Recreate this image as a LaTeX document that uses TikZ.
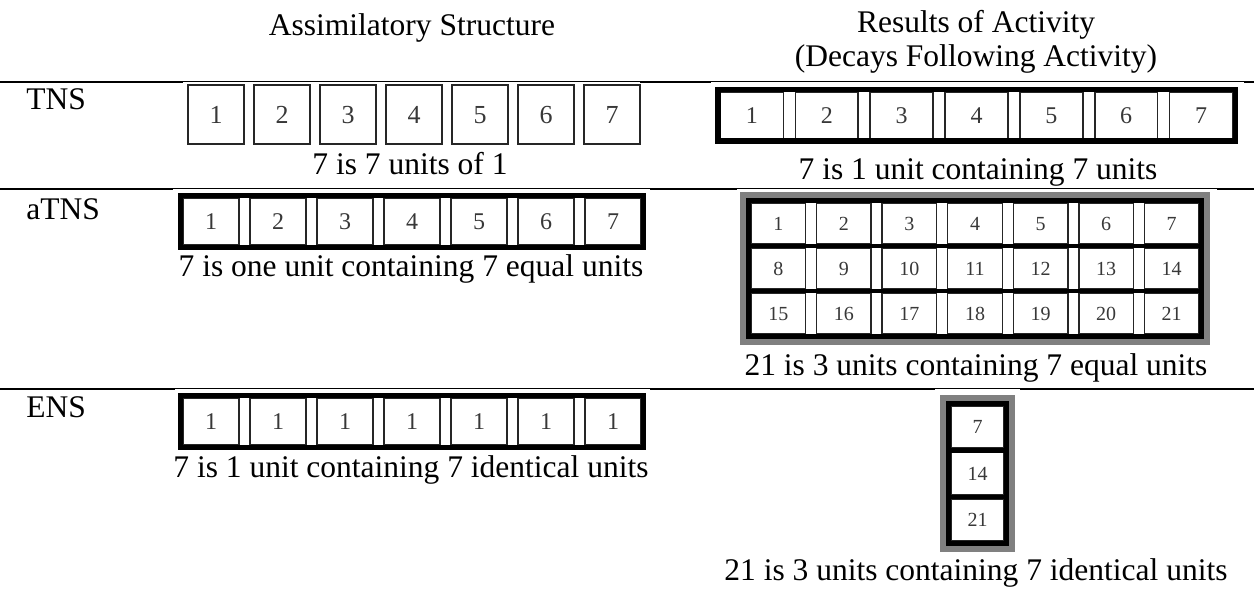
\documentclass[tikz,border=0pt]{standalone}
\usepackage{fontspec}
\setmainfont{Liberation Serif}
\begin{document}
\begin{tikzpicture}[x=0.5pt,y=-0.5pt,
  lbl/.style={anchor=base,inner sep=0pt,font=\fontsize{15.75}{18}\selectfont},
  rowlbl/.style={lbl,anchor=base west},
  num/.style={anchor=base,inner sep=0pt,text=black!78,font=\fontsize{12}{14}\selectfont},
  bignum/.style={num,font=\fontsize{13}{15}\selectfont},
  smallnum/.style={num,font=\fontsize{10}{12}\selectfont},
  unitbox/.style={draw=black!85,line width=0.9pt},
  cellbox/.style={draw=black!85,line width=0.75pt},
  outerbox/.style={draw=black,line width=2.6pt},
  halo/.style={draw=black!50,line width=3pt},
  sepline/.style={draw=black,line width=2.25pt},
  rulethick/.style={line width=1pt},
  rulethin/.style={line width=0.5pt}]

\useasboundingbox (0,0) rectangle (1254,593);

% ---- column headers ----
\node[lbl] (hdrA) at (412,36) {Assimilatory Structure};
\node[lbl] (hdrB1) at (976,33) {Results of Activity};
\node[lbl] (hdrB2) at (976,67) {(Decays Following Activity)};

% ---- table rules (thinner where a figure overlaps the rule) ----
\foreach \a/\b in {0/183,640/711,1244/1254}
  \draw[rulethick] (\a,82) -- (\b,82);
\foreach \a/\b in {183/640,711/1244}
  \draw[rulethin] (\a,81.5) -- (\b,81.5);
\foreach \a/\b in {0/173,650/737,1217/1254}
  \draw[rulethick] (\a,189) -- (\b,189);
\foreach \a/\b in {173/650,737/1217}
  \draw[rulethin] (\a,188.5) -- (\b,188.5);
\foreach \a/\b in {0/175,650/935,1020/1254}
  \draw[rulethick] (\a,389) -- (\b,389);
\foreach \a/\b in {175/650,935/1020}
  \draw[rulethin] (\a,388.5) -- (\b,388.5);

% ---- row labels ----
\node[rowlbl] (lblTNS) at (26,110) {TNS};
\node[rowlbl] (lblaTNS) at (26,220) {aTNS};
\node[rowlbl] (lblENS) at (26,418) {ENS};

% ---- TNS: seven separate units ----
\foreach \k in {1,...,7} {
  \pgfmathsetmacro\xa{188+66*(\k-1)}
  \draw[unitbox] (\xa,85) rectangle ++(56,59);
  \node[bignum] (tnsA-\k) at (\xa+28,123.3) {\k};
}
\node[lbl] (capTNSa) at (410,175) {7 is 7 units of 1};

% ---- TNS result: one unit containing seven ----
\foreach \k in {1,...,7} {
  \pgfmathsetmacro\xa{720.5+74.86*(\k-1)}
  \draw[cellbox] (\xa,92.5) rectangle ++(62.86,46);
  \node[num] (tnsB-\k) at (\xa+31.43,123.6) {\k};
}
\draw[outerbox,line width=2.75pt] (717.75,89.75) rectangle (1235.25,141.25);
\node[lbl] (capTNSb) at (978,180) {7 is 1 unit containing 7 units};

% ---- aTNS: one unit of seven equal units ----
\foreach \k in {1,...,7} {
  \pgfmathsetmacro\xa{183+67*(\k-1)}
  \draw[cellbox] (\xa,198) rectangle ++(56,47);
  \node[num] (atnsA-\k) at (\xa+28,229.6) {\k};
}
\draw[outerbox,line width=2.5pt] (180.5,195.5) rectangle (643.5,247.5);
\node[lbl] (capaTNSa) at (411,277) {7 is one unit containing 7 equal units};

% ---- aTNS result: three rows of seven ----
\foreach \r in {0,1,2} {
  \foreach \c in {0,...,6} {
    \pgfmathsetmacro\xa{751+65.57*\c}
    \pgfmathsetmacro\ya{203+45.17*\r}
    \pgfmathtruncatemacro\n{7*\r+\c+1}
    \draw[cellbox] (\xa,\ya) rectangle ++(54.57,40.67);
    \node[smallnum] (atnsB-\n) at (\xa+27.29,\ya+27.1) {\n};
  }
}
\draw[sepline] (751,245.9) -- (1199,245.9);
\draw[sepline] (751,291.1) -- (1199,291.1);
\draw[outerbox,line width=2.5pt] (748.5,200.5) rectangle (1201.5,336.5);
\draw[halo] (743,195) rectangle (1207,342);
\node[lbl] (capaTNSb) at (976,376) {21 is 3 units containing 7 equal units};

% ---- ENS: one unit of seven identical units ----
\foreach \k in {1,...,7} {
  \pgfmathsetmacro\xa{183+67*(\k-1)}
  \draw[cellbox] (\xa,398) rectangle ++(56,47);
  \node[num] (ensA-\k) at (\xa+28,429.6) {1};
}
\draw[outerbox,line width=2.5pt] (180.5,395.5) rectangle (643.5,447.5);
\node[lbl] (capENSa) at (411,478) {7 is 1 unit containing 7 identical units};

% ---- ENS result: a column of three composite units ----
\foreach \r/\v in {0/7,1/14,2/21} {
  \pgfmathsetmacro\ya{406+46.5*\r}
  \draw[cellbox] (951,\ya) rectangle ++(53,42);
  \node[smallnum] (ensB-\v) at (977.5,\ya+27.8) {\v};
}
\draw[sepline] (951,450.25) -- (1004,450.25);
\draw[sepline] (951,496.75) -- (1004,496.75);
\draw[outerbox,line width=2.5pt] (948.5,403.5) rectangle (1006.5,543.5);
\draw[halo] (943,398) rectangle (1012,549);
\node[lbl] (capENSb) at (976,580) {21 is 3 units containing 7 identical units};
\end{tikzpicture}
\end{document}
